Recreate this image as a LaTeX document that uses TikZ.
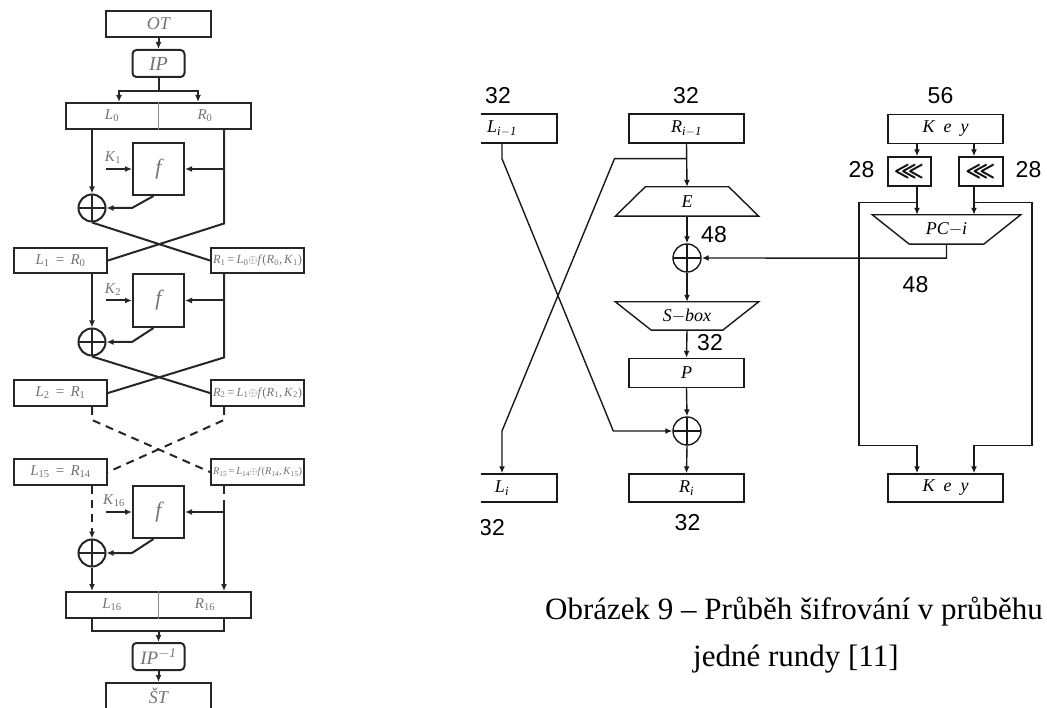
\documentclass[tikz,border=0pt]{standalone}
\usepackage{fontspec}
\setmainfont{Liberation Serif}
\newfontfamily\numfont{Liberation Sans}
\usepackage{amsmath}
\usepackage{amssymb}
\usepackage{graphicx}
\usetikzlibrary{arrows.meta,calc}

% subscripted variable name
\newcommand\vr[2]{\textit{#1}\textsubscript{#2}}

\tikzset{
  % Feistel network (left)
  lline/.style={line width=2pt, draw=black!85},
  larr/.style={lline, -{Latex[length=7pt,width=6pt]}},
  ldash/.style={lline, dash pattern=on 8pt off 6pt},
  lbox/.style={lline, rectangle, inner sep=0, text=black!55,
    font=\itshape\fontsize{18}{18}\selectfont},
  ltext/.style={inner sep=0, text=black!55, font=\fontsize{15}{15}\selectfont},
  fbox/.style={lbox, minimum width=51, minimum height=52,
    font=\itshape\fontsize{22}{22}\selectfont},
  halfbox/.style={lbox, minimum width=93, minimum height=25},
  xorl/.style={lline, circle, minimum size=27, inner sep=0,
    path picture={\draw[line width=1.7pt]
      (path picture bounding box.north) -- (path picture bounding box.south)
      (path picture bounding box.west) -- (path picture bounding box.east);}},
  % single round (right)
  rline/.style={line width=1.4pt, draw=black!90},
  rarr/.style={rline, -{Latex[length=7pt,width=6pt]}},
  rbox/.style={rline, rectangle, inner sep=0, minimum width=115, minimum height=29,
    font=\itshape\fontsize{18}{18}\selectfont},
  rlabel/.style={inner sep=0, font=\itshape\fontsize{18}{18}\selectfont},
  num/.style={inner sep=0, font=\numfont\fontsize{23}{23}\selectfont},
  shbox/.style={rline, rectangle, inner sep=0, minimum width=43, minimum height=29},
  xorr/.style={rline, circle, minimum size=28, inner sep=0,
    path picture={\draw[line width=1.2pt]
      (path picture bounding box.north) -- (path picture bounding box.south)
      (path picture bounding box.west) -- (path picture bounding box.east);}},
  caption/.style={anchor=base west, inner sep=0, font=\fontsize{31}{31}\selectfont}
}

\begin{document}
\begin{tikzpicture}[x=1pt, y=-1pt]
\useasboundingbox (0,0) rectangle (1047,708);
\clip (0,0) rectangle (1047,708);

% ---------------- Feistel network ----------------
\coordinate (colR) at (224,0);

\node[lbox, minimum width=105, minimum height=26] (ot) at (158.5,24) {OT};
\node[lbox, rounded corners=4, minimum width=52, minimum height=27,
      font=\itshape\fontsize{20}{20}\selectfont] (ip) at (158.5,63.5) {IP};
\draw[larr] (ot) -- (ip);

\node[lbox, minimum width=185, minimum height=26] (lr0) at (158.5,116) {};
\draw[black!45, line width=0.8pt] (lr0.north) -- (lr0.south);
\node[ltext] (l0) at (112,116) {\vr{L}{0}};
\node[ltext] (r0) at (205,116) {\vr{R}{0}};
\draw[larr] (ip.south) -- ++(0,13) -| ($(lr0.north)+(-39.5,0)$);
\draw[larr] (ip.south) -- ++(0,13) -| ($(lr0.north)+(39.5,0)$);

% round 1
\node[fbox] (f1) at (158.5,169) {f};
\node[xorl] (x1) at (92,208) {};
\node[halfbox] (l1) at (60.5,260.5) {};
\node[halfbox] (r1) at (257.5,260.5) {};
\node[ltext] (l1t) at (l1) {\vr{L}{1}\ \,=\ \,\vr{R}{0}};
\node[ltext] (r1t) at (r1) {\resizebox{89pt}{!}{\vr{R}{1}\,=\,\vr{L}{0}$\oplus$\textit{f}(\vr{R}{0},\,\vr{K}{1})}};
\node[ltext] (k1) at ($(f1.west)+(-19,-11)$) {\vr{K}{1}};
\draw[larr] ($(f1.west)+(-26,0)$) -- (f1.west);
\draw[larr] (x1 |- lr0.south) -- (x1.north);
\draw[lline] (colR |- lr0.south) -- ($(colR |- x1.south)+(0,1)$) -- (l1.east);
\draw[larr] (colR |- f1.east) -- (f1.east);
\draw[larr] ($(f1.south)+(-5,0)$) -- (f1.west |- x1) -- (x1.east);
\draw[lline] (x1.south) -- (r1.west);

% round 2
\node[fbox, minimum height=53] (f2) at (158.5,300.5) {f};
\node[xorl] (x2) at (92,342) {};
\node[halfbox, minimum height=26] (l2) at (60.5,393) {};
\node[halfbox, minimum height=26] (r2) at (257.5,393) {};
\node[ltext] (l2t) at (l2) {\vr{L}{2}\ \,=\ \,\vr{R}{1}};
\node[ltext] (r2t) at (r2) {\resizebox{89pt}{!}{\vr{R}{2}\,=\,\vr{L}{1}$\oplus$\textit{f}(\vr{R}{1},\,\vr{K}{2})}};
\node[ltext] (k2) at ($(f2.west)+(-19,-11)$) {\vr{K}{2}};
\draw[larr] ($(f2.west)+(-26,0)$) -- (f2.west);
\draw[larr] (x2 |- l1.south) -- (x2.north);
\draw[lline] (colR |- r1.south) -- ($(colR |- x2.south)+(0,1)$) -- (l2.east);
\draw[larr] (colR |- f2.east) -- (f2.east);
\draw[larr] ($(f2.south)+(-5,0)$) -- (f2.west |- x2) -- (x2.east);
\draw[lline] (x2.south) -- (r2.west);

% rounds 3 ... 15
\node[halfbox, minimum height=26] (l15) at (60.5,472) {};
\node[halfbox, minimum height=26] (r15) at (257.5,472) {};
\node[ltext] (l15t) at (l15) {\vr{L}{15}\ \,=\ \,\vr{R}{14}};
\node[ltext] (r15t) at (r15) {\resizebox{89pt}{!}{\vr{R}{15}\,=\,\vr{L}{14}$\oplus$\textit{f}(\vr{R}{14},\,\vr{K}{15})}};
\draw[ldash] (x2 |- l2.south) -- ++(0,13) -- (r15.west);
\draw[ldash] (colR |- r2.south) -- ++(0,13) -- (l15.east);

% round 16
\node[fbox] (f3) at (158.5,512) {f};
\node[xorl] (x3) at (92,553) {};
\node[ltext] (k3) at ($(f3.west)+(-18,-11)$) {\vr{K}{16}};
\node[lbox, minimum width=185, minimum height=26] (lr16) at (158.5,605) {};
\draw[black!45, line width=0.8pt] (lr16.north) -- (lr16.south);
\node[ltext] (l16) at (112,605) {\vr{L}{16}};
\node[ltext] (r16) at (205,605) {\vr{R}{16}};
\draw[larr] ($(f3.west)+(-26,0)$) -- (f3.west);
\draw[ldash, -{Latex[length=7pt,width=6pt]}] (x3 |- l15.south) -- (x3.north);
\draw[ldash] (colR |- r15.south) -- ++(0,20);
\draw[larr] ($(colR |- r15.south)+(0,20)$) -- (colR |- lr16.north);
\draw[larr] (colR |- f3.east) -- (f3.east);
\draw[larr] ($(f3.south)+(-5,0)$) -- (f3.west |- x3) -- (x3.east);
\draw[larr] (x3.south) -- (x3 |- lr16.north);

\node[lbox, rounded corners=4, minimum width=52, minimum height=27,
      font=\itshape\fontsize{19}{19}\selectfont] (ipinv) at (158.5,656.5) {IP\textsuperscript{$-$1}};
\draw[lline] (x3 |- lr16.south) -- ++(0,12) -| (colR |- lr16.south);
\draw[larr] (lr16.south) ++(0,12) -- (ipinv.north);
\node[lbox, minimum width=105, minimum height=26] (st) at (158.5,696) {ŠT};
\draw[larr] (ipinv) -- (st);

% ---------------- one round ----------------
\begin{scope}
\clip (481,0) rectangle (1047,708);

\node[rbox, minimum width=110] (lim1) at (502,128.5) {\vr{L}{\textit{i}$-$1}};
\node[rbox] (rim1) at (686.5,128.5) {\vr{R}{\textit{i}$-$1}};
\node[num] (n1) at (498,96) {32};
\node[num] (n2) at (686,96) {32};

\node[rlabel, minimum width=143, minimum height=29] (E) at (687,201.5) {E};
\draw[rline] ($(E.north west)+(30,0)$) -- ($(E.north east)+(-30,0)$)
  -- (E.south east) -- (E.south west) -- cycle;
\node[num] (n3) at (714,235) {48};
\node[xorr] (a1) at (687,258) {};

\node[rlabel, minimum width=143, minimum height=28] (S) at (687,316) {S$-$box};
\draw[rline] (S.north west) -- (S.north east) -- ($(S.south east)+(-36,0)$)
  -- ($(S.south west)+(36,0)$) -- cycle;
\node[num] (n4) at (710,343) {32};
\node[rbox] (P) at (686.5,373) {P};
\node[xorr] (a2) at (687,431) {};
\node[rbox, minimum height=28] (Ri) at (686.5,488) {\vr{R}{\textit{i}}};
\node[rbox, minimum width=110, minimum height=28] (Li) at (502,488) {\vr{L}{\textit{i}}};
\node[num] (n5) at (687.5,522.5) {32};
\node[num] (n6) at (492,528) {32};

\draw[rarr] (rim1.south) -- (E.north);
\draw[rarr] ($(rim1.south)+(0,15)$) -- ++(-72,0) -- (Li.north |- a2) -- (Li.north);
\draw[rarr] (lim1.south) -- ++(0,15) -- ($(a2.west)+(-59,0)$) -- (a2.west);
\draw[rarr] (E.south) -- (a1.north);
\draw[rarr] (a1.south) -- (S.north);
\draw[rarr] (S.south) -- (P.north);
\draw[rarr] (P.south) -- (a2.north);
\draw[rarr] (a2.south) -- (Ri.north);

% key schedule
\coordinate (kL) at (917,0);
\coordinate (kR) at (974,0);
\node[rbox] (key1) at (945.5,129) {K\,\,\,e\,\,\,y};
\node[num] (n7) at (940.5,95.5) {56};
\node[shbox] (sh1) at (909.5,171.5) {\fontsize{22}{22}\selectfont$\pmb{\lll}$};
\node[shbox, minimum width=44] (sh2) at (981,171.5) {\fontsize{22}{22}\selectfont$\pmb{\lll}$};
\node[num] (n8) at (861.5,169.5) {28};
\node[num] (n9) at (1028.5,169.5) {28};
\node[rlabel, minimum width=148, minimum height=29] (PC) at (946.5,229.5) {PC$-$i};
\draw[rline] (PC.north west) -- (PC.north east) -- ($(PC.south east)+(-37,0)$)
  -- ($(PC.south west)+(37,0)$) -- cycle;
\node[num] (n10) at (915.5,284.5) {48};
\node[rbox, minimum height=28] (key2) at (945.5,488) {K\,\,\,e\,\,\,y};

\draw[rarr] (kL |- key1.south) -- (kL |- sh1.north);
\draw[rarr] (kR |- key1.south) -- (kR |- sh2.north);
\draw[rarr] (kL |- sh1.south) -- (kL |- PC.north);
\draw[rarr] (kR |- sh2.south) -- (kR |- PC.north);
\draw[rarr] ($(kL |- sh1.south)+(0,16)$) -- ++(-58,0) -- ++(0,243) -| (kL |- key2.north);
\draw[rarr] ($(kR |- sh2.south)+(0,16)$) -- ++(58,0) -- ++(0,243) -| (kR |- key2.north);
\draw[rarr] (PC.south) -- ++(0,14) -- (a1.east);
\end{scope}

% caption
\node[caption] (cap1) at (545,619) {Obrázek 9 – Průběh šifrování v průběhu};
\node[caption] (cap2) at (693,666) {jedné rundy [11]};
\end{tikzpicture}
\end{document}
